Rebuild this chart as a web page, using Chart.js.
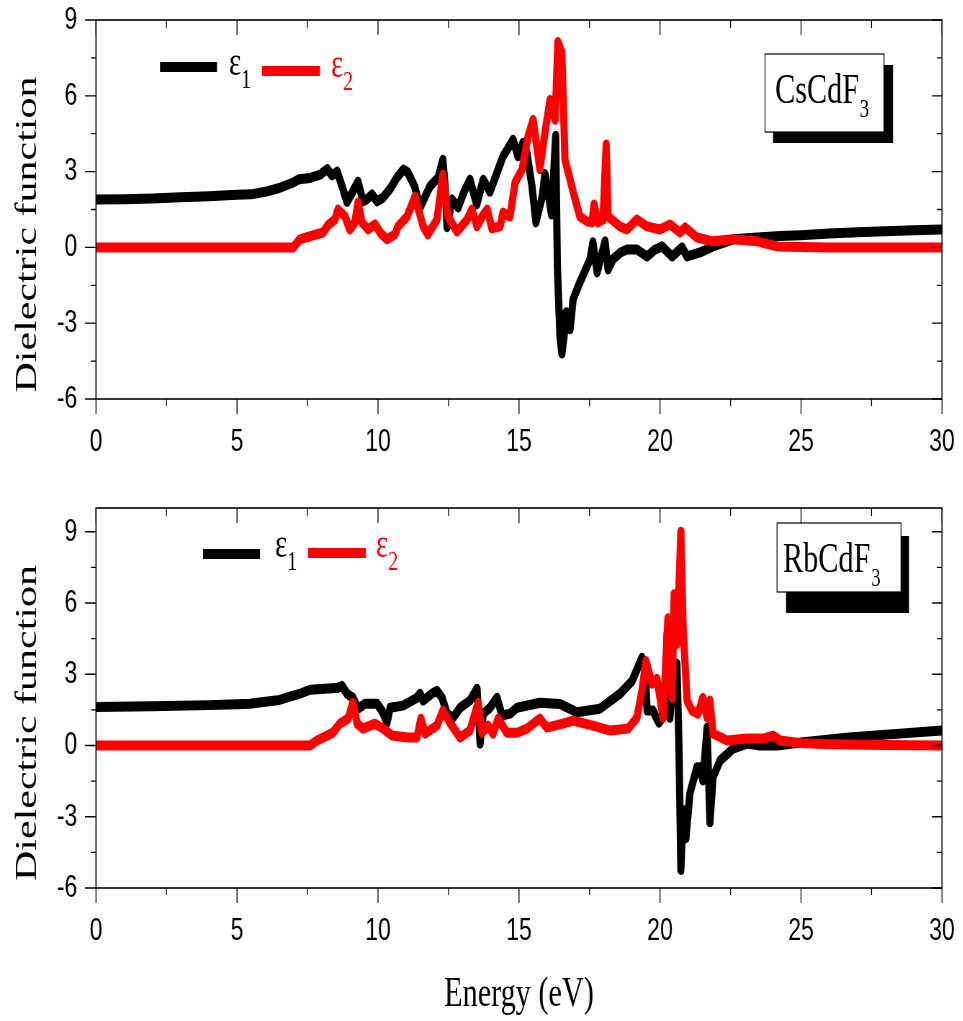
<!DOCTYPE html>
<html>
<head>
<meta charset="utf-8">
<script src="https://cdn.jsdelivr.net/npm/chart.js@4.4.1/dist/chart.umd.min.js"></script>
<style>
  html, body { margin:0; padding:0; background:#fff; width:963px; height:1021px; overflow:hidden; }
  .panel { position:absolute; left:0; transform-origin:0 0; transform:scaleX(0.72); }
</style>
</head>
<body>
<div class="panel" style="top:0"><canvas id="chartCs" width="1338" height="470"></canvas></div>
<div class="panel" style="top:470px"><canvas id="chartRb" width="1338" height="551"></canvas></div>
<script>
// energy (eV), value pairs
const csEps1 = [[0,1.9],[1,1.91],[2,1.94],[3,1.98],[4,2.02],[5,2.08],[5.5,2.1],[6,2.2],[6.5,2.35],[7,2.57],
  [7.2,2.7],[7.6,2.75],[7.95,2.88],[8.2,3.1],[8.37,2.85],[8.55,3.0],[8.7,2.5],[8.9,1.8],[9.1,2.2],[9.29,2.6],
  [9.47,1.82],[9.6,1.9],[9.79,2.1],[9.96,1.82],[10.18,1.97],[10.45,2.35],[10.67,2.76],[10.9,3.08],[11.06,2.96],
  [11.3,2.41],[11.49,1.58],[11.84,2.41],[12.13,2.76],[12.3,3.47],[12.38,2.41],[12.45,0.8],[12.62,1.9],[12.84,1.58],
  [13.05,2.2],[13.26,2.68],[13.5,1.7],[13.73,2.68],[13.97,2.2],[14.2,2.9],[14.43,3.6],[14.6,3.9],[14.79,4.26],
  [14.96,3.6],[15.14,4.14],[15.28,3.75],[15.46,2.41],[15.6,0.99],[15.82,2.0],[15.92,2.9],[16.03,2.17],[16.15,1.3],
  [16.3,4.42],[16.36,-0.75],[16.45,-3.5],[16.52,-4.2],[16.6,-3.5],[16.67,-2.57],[16.81,-3.24],[16.92,-2.05],
  [17.16,-1.38],[17.35,-0.9],[17.52,-0.47],[17.62,0.2],[17.77,-0.99],[18.05,0.24],[18.16,-0.87],[18.33,-0.47],
  [18.6,-0.2],[18.83,-0.08],[19.18,-0.08],[19.54,-0.36],[19.8,-0.1],[20.07,0.04],[20.43,-0.36],[20.78,0.0],
  [20.96,-0.36],[21.42,-0.2],[21.88,0.04],[22.59,0.32],[23.44,0.39],[24.26,0.45],[25,0.48],[26,0.55],[27,0.6],
  [28,0.64],[29,0.68],[30,0.71]];
const csEps2 = [[0,0],[7,0],[7.23,0.32],[7.6,0.45],[8.05,0.59],[8.22,0.87],[8.47,1.1],[8.58,1.5],[8.83,1.22],
  [9.0,0.71],[9.18,0.99],[9.29,1.78],[9.43,0.99],[9.65,0.71],[9.89,0.91],[10.1,0.55],[10.32,0.32],[10.6,0.51],
  [10.71,0.83],[11.03,1.22],[11.31,2.01],[11.6,0.83],[11.77,0.51],[12.09,1.1],[12.3,2.88],[12.48,1.22],[12.8,0.63],
  [13.16,1.1],[13.33,1.5],[13.51,0.83],[13.69,1.22],[13.87,1.5],[14.04,0.75],[14.33,0.83],[14.43,1.38],[14.68,1.22],
  [14.86,2.57],[15.11,3.08],[15.32,4.38],[15.5,5.05],[15.74,3.1],[15.92,4.54],[16.1,5.84],[16.28,5.05],[16.38,8.13],
  [16.52,7.7],[16.63,3.47],[16.81,2.68],[16.99,1.9],[17.16,1.22],[17.41,1.03],[17.59,0.99],[17.66,1.7],[17.8,0.99],
  [17.98,1.1],[18.09,4.07],[18.16,1.22],[18.58,0.83],[18.83,0.71],[19.18,1.1],[19.54,0.83],[20.0,0.71],[20.35,0.91],
  [20.71,0.59],[20.89,0.79],[21.31,0.39],[21.88,0.24],[22.59,0.32],[23.44,0.24],[24.15,0.04],[25,0.02],[26,0],[30,0]];
const rbEps1 = [[0,1.62],[2,1.65],[4,1.7],[5,1.74],[5.46,1.76],[6.5,1.92],[7.23,2.18],[7.59,2.35],[8.0,2.38],
  [8.58,2.43],[8.72,2.51],[8.9,2.18],[9.11,2.01],[9.29,1.55],[9.54,1.76],[9.96,1.76],[10.14,1.47],[10.32,0.96],
  [10.43,1.59],[10.89,1.68],[11.38,2.01],[11.49,2.18],[11.6,1.89],[11.91,2.18],[12.09,2.3],[12.27,2.01],[12.45,1.34],
  [12.66,1.17],[12.91,1.59],[13.26,1.89],[13.51,2.39],[13.58,1.0],[13.62,0.08],[13.73,1.34],[13.97,1.59],[14.22,2.01],
  [14.4,1.26],[14.68,1.34],[14.93,1.59],[15.74,1.8],[16.45,1.75],[17.05,1.4],[17.87,1.55],[18.58,2.18],[19.01,2.72],
  [19.36,3.69],[19.47,3.44],[19.54,1.47],[19.75,1.47],[19.96,0.96],[20.18,1.34],[20.25,4.69],[20.35,1.17],[20.46,3.14],
  [20.6,3.44],[20.67,0.08],[20.74,-5.24],[20.82,-2.72],[20.92,-3.9],[21.06,-2.01],[21.31,-0.92],[21.42,-0.92],
  [21.52,-1.47],[21.67,0.75],[21.77,-3.23],[21.88,-1.34],[22.13,-0.63],[22.59,-0.13],[23.09,0.08],[23.55,0.0],
  [24.15,0.0],[25,0.13],[26.7,0.34],[28.5,0.5],[30,0.63]];
const rbEps2 = [[0,0],[7.59,0],[7.84,0.21],[8.4,0.54],[8.65,0.92],[8.94,1.13],[9.11,1.8],[9.26,0.92],[9.47,0.71],
  [9.89,0.92],[10.18,0.71],[10.5,0.42],[11.03,0.34],[11.38,0.34],[11.52,1.13],[11.67,0.5],[12.09,0.84],[12.3,1.47],
  [12.55,0.96],[12.91,0.34],[13.26,0.63],[13.55,1.8],[13.69,0.54],[13.9,0.84],[14.08,0.5],[14.26,1.13],[14.57,0.54],
  [14.93,0.54],[15.28,0.71],[15.74,1.13],[15.99,0.75],[16.56,0.92],[16.91,1.05],[17.62,0.84],[18.23,0.63],[18.87,0.71],
  [19.18,1.17],[19.36,2.3],[19.5,3.56],[19.72,2.6],[19.89,2.81],[20.11,1.17],[20.28,5.36],[20.43,2.01],[20.5,6.37],
  [20.6,4.27],[20.74,9.0],[20.82,4.94],[20.96,1.89],[21.13,1.47],[21.35,1.34],[21.52,2.01],[21.67,1.17],[21.77,1.89],
  [21.88,0.5],[22.38,0.21],[23.09,0.29],[23.65,0.29],[24.01,0.42],[24.26,0.21],[25,0.1],[26,0.05],[28,0.02],[30,0]];

const xTicks = [0, 5, 10, 15, 20, 25, 30];
const yTicks = [-6, -3, 0, 3, 6, 9];
const compounds = ['CsCdF', 'RbCdF'];
const seriesNames = ['\u03b5', '\u03b5'];   // epsilon_1, epsilon_2
const seriesSubs = ['1', '2'];
const yTitle = 'Dielectric function';
const xTitle = 'Energy (eV)';

const K = 0.72;            // original figure is squeezed horizontally
const W = 1338;            // canvas width before the squeeze
const X = v => v / K;      // page px -> canvas px
const SERIF = '"Liberation Serif", "Times New Roman", serif';
const SANS = '"Liberation Sans", Arial, sans-serif';

Chart.defaults.color = '#000';

const mid = arr => arr.slice(1).map((v, i) => (v + arr[i]) / 2);

const panelPlugin = {
  id: 'panel',
  afterDraw(chart, args, p) {
    const {ctx, chartArea: a, scales: {x, y}} = chart;
    ctx.save();
    ctx.strokeStyle = '#000';
    ctx.lineWidth = 1.6;
    ctx.strokeRect(a.left, a.top, a.right - a.left, a.bottom - a.top);

    // ticks: outside on left/bottom, inside on top/right
    ctx.lineWidth = 1.3;
    ctx.beginPath();
    const xt = (v, lb, lt) => {
      const px = x.getPixelForValue(v);
      ctx.moveTo(px, a.bottom); ctx.lineTo(px, a.bottom + lb);
      ctx.moveTo(px, a.top); ctx.lineTo(px, a.top + lt);
    };
    xTicks.forEach(v => xt(v, 15, 15));
    mid(xTicks).forEach(v => xt(v, 7, 8));
    const yt = (v, ll, lr) => {
      if (v > y.max) return;
      const py = y.getPixelForValue(v);
      ctx.moveTo(a.left, py); ctx.lineTo(a.left - X(ll), py);
      ctx.moveTo(a.right, py); ctx.lineTo(a.right - X(lr), py);
    };
    yTicks.forEach(v => yt(v, 11, 10));
    mid(yTicks).forEach(v => yt(v, 5, 5));
    ctx.stroke();

    // y title
    ctx.save();
    ctx.translate(X(28), (a.top + a.bottom) / 2 + 25);
    ctx.rotate(-Math.PI / 2);
    ctx.font = '42px ' + SERIF;
    ctx.textAlign = 'center';
    ctx.textBaseline = 'middle';
    ctx.fillStyle = '#000';
    ctx.fillText(yTitle, 0, 0);
    ctx.restore();

    // legend
    p.legend.forEach((it, i) => {
      const color = i === 0 ? '#000' : '#ff0000';
      ctx.strokeStyle = color;
      ctx.lineWidth = 10;
      ctx.lineCap = 'butt';
      ctx.beginPath();
      ctx.moveTo(X(it.x0), it.ly); ctx.lineTo(X(it.x1), it.ly);
      ctx.stroke();
      ctx.fillStyle = color;
      ctx.textAlign = 'left';
      ctx.textBaseline = 'alphabetic';
      ctx.font = '40px ' + SERIF;
      ctx.fillText(seriesNames[i], X(it.tx), it.base);
      const w = ctx.measureText(seriesNames[i]).width;
      ctx.font = '28px ' + SERIF;
      ctx.fillText(seriesSubs[i], X(it.tx) + w, it.base + 13);
    });

    // compound label with drop shadow
    const b = p.box;
    ctx.fillStyle = '#000';
    ctx.fillRect(X(b.sx), b.sy, X(b.sx2) - X(b.sx), b.sy2 - b.sy);
    ctx.fillStyle = '#fff';
    ctx.fillRect(X(b.x), b.y, X(b.x2) - X(b.x), b.y2 - b.y);
    ctx.strokeStyle = '#000';
    ctx.lineWidth = 1.2;
    ctx.strokeRect(X(b.x), b.y, X(b.x2) - X(b.x), b.y2 - b.y);
    ctx.fillStyle = '#000';
    ctx.font = '42px ' + SERIF;
    ctx.fillText(compounds[p.idx], X(b.tx), b.ty);
    const tw = ctx.measureText(compounds[p.idx]).width;
    ctx.font = '26px ' + SERIF;
    ctx.fillText('3', X(b.tx) + tw + 1, b.ty + 14);
    ctx.restore();
  }
};

function makeChart(id, eps1, eps2, cfg) {
  const line = (pts, color, order) => ({
    data: pts.map(p => ({x: p[0], y: p[1]})),
    borderColor: color, borderWidth: 10, pointRadius: 0, tension: 0,
    borderJoinStyle: 'round', borderCapStyle: 'round', clip: 0, order
  });
  return new Chart(document.getElementById(id).getContext('2d'), {
    type: 'line',
    data: { datasets: [line(eps1, '#000', 1), line(eps2, '#ff0000', 0)] },
    options: {
      responsive: false,
      animation: false,
      layout: { padding: { left: 0, right: W - X(942), top: cfg.top, bottom: 0 } },
      scales: {
        x: {
          type: 'linear', min: 0, max: 30,
          grid: { display: false, drawTicks: false }, border: { display: false },
          afterBuildTicks: s => { s.ticks = xTicks.map(v => ({value: v})); },
          afterFit: s => { s.height = cfg.xHeight; s.paddingLeft = 0; s.paddingRight = 0; },
          ticks: { font: { family: SANS, size: 32 }, color: '#000', padding: 24, maxRotation: 0, autoSkip: false },
          title: cfg.showXTitle
            ? { display: true, text: xTitle, font: { family: SERIF, size: 42 }, color: '#000', padding: { top: 0, bottom: 1 } }
            : { display: false }
        },
        y: {
          min: -6, max: cfg.yMax,
          grid: { display: false, drawTicks: false }, border: { display: false },
          afterBuildTicks: s => { s.ticks = yTicks.map(v => ({value: v})); },
          afterFit: s => { s.width = X(96); s.paddingTop = 0; s.paddingBottom = 0; },
          ticks: { font: { family: SANS, size: 32 }, color: '#000', padding: 26 }
        }
      },
      plugins: { legend: { display: false }, tooltip: { enabled: false }, panel: cfg }
    },
    plugins: [panelPlugin]
  });
}

makeChart('chartCs', csEps1, csEps2, {
  idx: 0, top: 20, xHeight: 71, yMax: 9, showXTitle: false,
  legend: [ { x0: 160, x1: 217, ly: 67, tx: 229, base: 75 },
            { x0: 262, x1: 320, ly: 71, tx: 331, base: 77 } ],
  box: { x: 765, x2: 884, y: 54, y2: 132, sx: 773, sx2: 893, sy: 65, sy2: 143, tx: 775, ty: 103 }
});
makeChart('chartRb', rbEps1, rbEps2, {
  idx: 1, top: 38, xHeight: 133, yMax: 10, showXTitle: true,
  legend: [ { x0: 203, x1: 260, ly: 84, tx: 275, base: 87 },
            { x0: 308, x1: 366, ly: 83, tx: 376, base: 87 } ],
  box: { x: 777, x2: 901, y: 53, y2: 122, sx: 786, sx2: 909, sy: 66, sy2: 143, tx: 783, ty: 102 }
});
</script>
</body>
</html>
